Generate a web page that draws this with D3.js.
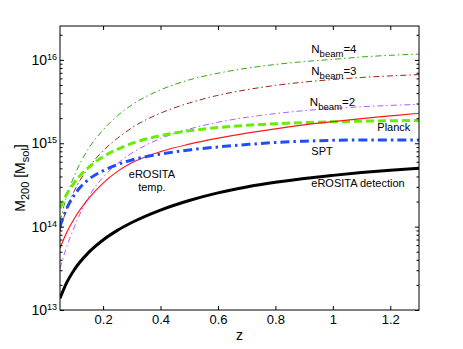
<!DOCTYPE html>
<html><head><meta charset="utf-8">
<script src="https://cdn.jsdelivr.net/npm/d3@7"></script>
<style>body{margin:0;background:#fff}svg{display:block;font-family:"Liberation Sans",Arial,Helvetica,sans-serif}</style>
</head><body><svg id="c" width="463" height="349"></svg>
<script>
const zVals = [0.05,0.07,0.1,0.15,0.2,0.25,0.3,0.4,0.5,0.6,0.7,0.8,0.9,1.0,1.1,1.2,1.3];
const eRositaDetection = [1.38e13,2.02e13,3.05e13,4.91e13,6.92e13,9.02e13,1.12e14,1.58e14,2.06e14,2.54e14,2.99e14,3.40e14,3.78e14,4.12e14,4.45e14,4.74e14,5.01e14];
const eRositaTemp = [5.50e13,8.04e13,1.25e14,2.18e14,3.33e14,4.60e14,5.83e14,7.94e14,9.75e14,1.15e15,1.32e15,1.49e15,1.66e15,1.82e15,1.98e15,2.13e15,2.29e15];
const sptVals = [1.0e14,1.55e14,2.40e14,3.69e14,4.68e14,5.56e14,6.31e14,7.41e14,8.32e14,9.02e14,9.66e14,1.023e15,1.059e15,1.084e15,1.096e15,1.096e15,1.096e15];
const planckVals = [1.66e14,2.33e14,3.37e14,5.15e14,6.89e14,8.47e14,9.95e14,1.233e15,1.409e15,1.542e15,1.641e15,1.714e15,1.770e15,1.811e15,1.841e15,1.862e15,1.875e15];
const nbeam2 = [3.16e13,5.27e13,9.93e13,2.29e14,3.91e14,5.71e14,7.62e14,1.138e15,1.479e15,1.786e15,2.046e15,2.270e15,2.460e15,2.612e15,2.742e15,2.844e15,2.931e15];
const nbeam3 = [8.91e13,1.514e14,2.692e14,5.129e14,8.128e14,1.148e15,1.531e15,2.296e15,3.041e15,3.758e15,4.385e15,4.943e15,5.420e15,5.808e15,6.152e15,6.427e15,6.653e15];
const nbeam4 = [1.148e14,2.138e14,4.074e14,8.710e14,1.445e15,2.138e15,2.884e15,4.365e15,5.754e15,6.918e15,7.943e15,8.810e15,9.550e15,1.014e16,1.084e16,1.135e16,1.175e16];
const xTicks = [0.2,0.4,0.6,0.8,1,1.2];
const yMajor = [1e13,1e14,1e15,1e16];
const yExps = ["13","14","15","16"];

const svg = d3.select("#c");
const L=60,R=419,T=26,B=310;
const x = d3.scaleLinear().domain([0.05,1.3]).range([L,R]);
const y = d3.scaleLog().domain([1e13,2.55e16]).range([B,T]);

svg.append("rect").attr("width",463).attr("height",349).attr("fill","#fff");

const series = [
  {v:nbeam4, c:"#33aa11", w:1, d:"6,3,1.5,3"},
  {v:nbeam3, c:"#a02412", w:1, d:"6,3,1.5,3"},
  {v:nbeam2, c:"#b45cff", w:1, d:"6,3,1.5,3"},
  {v:planckVals, c:"#66ee00", w:3, d:"8,4"},
  {v:eRositaTemp, c:"#ff1a1a", w:1.2, d:null},
  {v:sptVals, c:"#1f4cff", w:3, d:"9,4,2.5,4"},
  {v:eRositaDetection, c:"#000", w:3, d:null}
];
svg.append("clipPath").attr("id","pc").append("rect").attr("x",L).attr("y",T).attr("width",R-L).attr("height",B-T);
const g = svg.append("g").attr("clip-path","url(#pc)");
series.forEach(s=>{
  const line = d3.line().x((d,i)=>x(zVals[i])).y(d=>y(d)).curve(d3.curveMonotoneX);
  const p = g.append("path").attr("d",line(s.v)).attr("fill","none").attr("stroke",s.c).attr("stroke-width",s.w);
  if(s.d) p.attr("stroke-dasharray",s.d);
});

// axes
const yMinor = [];
for (let e=13;e<=16;e++) for (let k=2;k<=9;k++){ const v=k*Math.pow(10,e); if(v<=2.55e16) yMinor.push(v); }
const axCol="#000";
function styleAx(sel){ sel.select(".domain").remove(); sel.selectAll("line").attr("stroke",axCol); }
svg.append("g").attr("transform",`translate(0,${B})`).call(d3.axisBottom(x).tickValues(xTicks).tickSizeInner(-4).tickSizeOuter(0).tickPadding(5).tickFormat(d3.format("")))
  .call(styleAx).call(s=>s.selectAll("text").attr("font-size",13).attr("fill","#000").attr("font-family","Liberation Sans, Arial, sans-serif"));
svg.append("g").attr("transform",`translate(0,${T})`).call(d3.axisTop(x).tickValues(xTicks).tickSizeInner(-4).tickSizeOuter(0).tickFormat(""))
  .call(styleAx);
svg.append("g").attr("transform",`translate(${L},0)`).call(d3.axisLeft(y).tickValues(yMinor).tickSizeInner(-2.5).tickSizeOuter(0).tickFormat("")).call(styleAx);
svg.append("g").attr("transform",`translate(${R},0)`).call(d3.axisRight(y).tickValues(yMinor).tickSizeInner(-2.5).tickSizeOuter(0).tickFormat("")).call(styleAx);
svg.append("g").attr("transform",`translate(${R},0)`).call(d3.axisRight(y).tickValues(yMajor).tickSizeInner(-4).tickSizeOuter(0).tickFormat("")).call(styleAx);
const yl = svg.append("g").attr("transform",`translate(${L},0)`).call(d3.axisLeft(y).tickValues(yMajor).tickSizeInner(-4).tickSizeOuter(0).tickPadding(6).tickFormat(""))
  .call(styleAx);
yl.selectAll(".tick text").each(function(d,i){
  const t=d3.select(this).attr("font-size",14).attr("fill","#000").attr("dy","0.32em").attr("x",-3);
  t.append("tspan").text("10");
  t.append("tspan").attr("dy","-0.55em").attr("font-size",9).text(yExps[i]);
});
svg.append("rect").attr("x",L).attr("y",T).attr("width",R-L).attr("height",B-T).attr("fill","none").attr("stroke","#000").attr("stroke-width",1);

// axis labels
svg.append("text").attr("x",(L+R)/2).attr("y",340).attr("text-anchor","middle").attr("font-size",14).text("z");
const ylab = svg.append("text").attr("transform","translate(25,178) rotate(-90)").attr("text-anchor","middle").attr("font-size",14);
ylab.append("tspan").text("M");
ylab.append("tspan").attr("dy",4).attr("font-size",11).text("200");
ylab.append("tspan").attr("dy",-4).text(" [M");
ylab.append("tspan").attr("dy",4).attr("font-size",11).text("sol");
ylab.append("tspan").attr("dy",-4).text("]");

// annotations
function nbeam(lbl, zz, mm){
  const t = svg.append("text").attr("x",x(zz)).attr("y",y(mm)).attr("font-size",11.5);
  t.append("tspan").text("N");
  t.append("tspan").attr("dy",4).attr("font-size",9.5).text("beam");
  t.append("tspan").attr("dy",-4).text(lbl);
}
nbeam("=4",0.925,1.22e16);
nbeam("=3",0.925,6.5e15);
nbeam("=2",0.92,2.8e15);
function ann(txt,zz,mm,anchor){
  svg.append("text").attr("x",x(zz)).attr("y",y(mm)).attr("font-size",11).attr("text-anchor",anchor||"start").text(txt);
}
ann("Planck",1.155,1.41e15);
ann("SPT",0.925,7.3e14);
ann("eROSITA detection",0.925,3.0e14);
ann("eROSITA",0.37,3.8e14,"middle");
ann("temp.",0.37,2.7e14,"middle");
</script></body></html>
